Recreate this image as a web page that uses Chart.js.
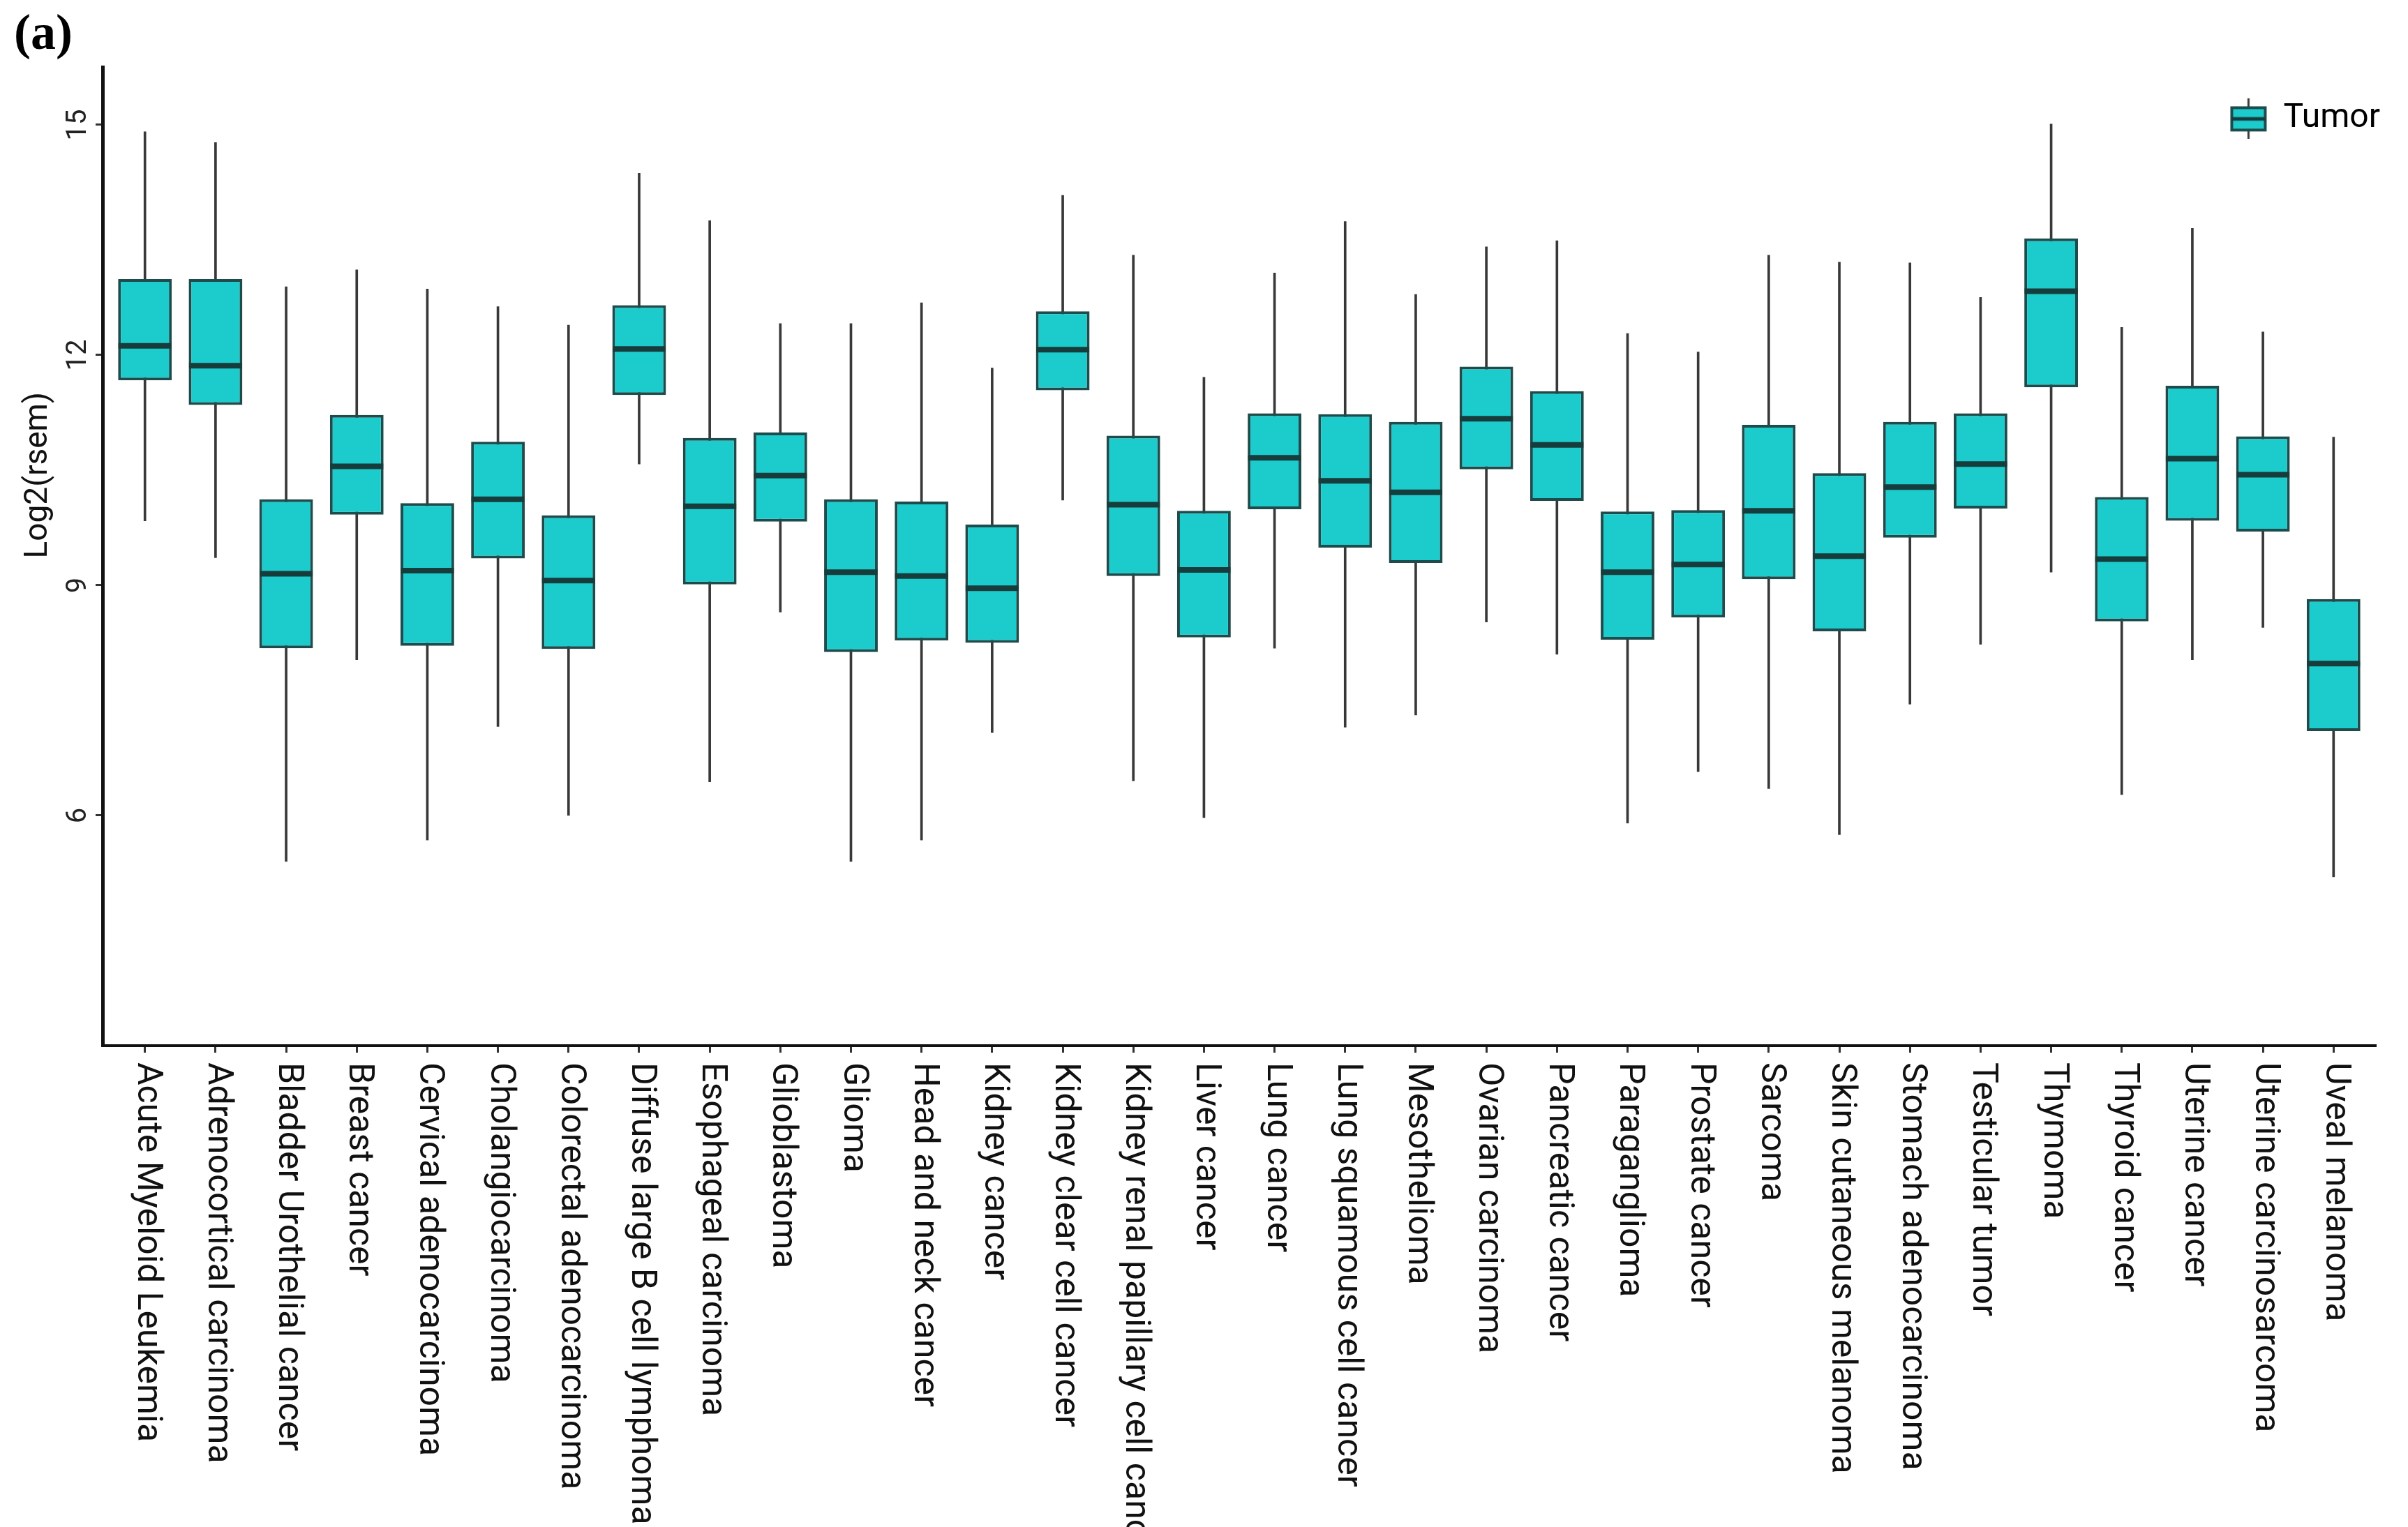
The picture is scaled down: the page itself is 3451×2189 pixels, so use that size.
<!DOCTYPE html>
<html>
<head>
<meta charset="utf-8">
<script src="https://cdn.jsdelivr.net/npm/chart.js@4.4.1/dist/chart.umd.min.js"></script>
<style>
  html, body { margin: 0; padding: 0; background: #fff; }
  #wrap { width: 3451px; height: 2189px; }
</style>
</head>
<body>
<div id="wrap"><canvas id="chart"></canvas></div>
<script>
let categories = [
	'Acute Myeloid Leukemia', 'Adrenocortical carcinoma', 'Bladder Urothelial cancer', 'Breast cancer',
	'Cervical adenocarcinoma', 'Cholangiocarcinoma', 'Colorectal adenocarcinoma', 'Diffuse large B cell lymphoma',
	'Esophageal carcinoma', 'Glioblastoma', 'Glioma', 'Head and neck cancer', 'Kidney cancer',
	'Kidney clear cell cancer', 'Kidney renal papillary cell cancer', 'Liver cancer', 'Lung cancer',
	'Lung squamous cell cancer', 'Mesothelioma', 'Ovarian carcinoma', 'Pancreatic cancer', 'Paraganglioma',
	'Prostate cancer', 'Sarcoma', 'Skin cutaneous melanoma', 'Stomach adenocarcinoma', 'Testicular tumor',
	'Thymoma', 'Thyroid cancer', 'Uterine cancer', 'Uterine carcinosarcoma', 'Uveal melanoma'
];
let whiskerLow = [9.84, 9.36, 5.40, 8.03, 5.68, 7.16, 6.00, 10.58, 6.44, 8.65, 5.40, 5.68, 7.08, 10.11, 6.45, 5.97,
	8.18, 7.15, 7.31, 8.52, 8.10, 5.90, 6.57, 6.35, 5.75, 7.45, 8.23, 9.17, 6.27, 8.03, 8.45, 5.20];
let q1 = [11.67, 11.35, 8.18, 9.92, 8.21, 9.35, 8.17, 11.48, 9.01, 9.83, 8.13, 8.28, 8.25, 11.54, 9.12, 8.32,
	9.99, 9.49, 9.29, 10.51, 10.10, 8.29, 8.58, 9.08, 8.40, 9.62, 10.00, 11.58, 8.53, 9.84, 9.70, 7.10];
let medians = [12.12, 11.86, 9.15, 10.55, 9.19, 10.12, 9.06, 12.08, 10.03, 10.43, 9.17, 9.12, 8.96, 12.07, 10.05, 9.20,
	10.66, 10.36, 10.21, 11.17, 10.83, 9.17, 9.27, 9.97, 9.38, 10.28, 10.58, 12.83, 9.34, 10.65, 10.44, 7.98];
let q3 = [12.99, 12.99, 10.12, 11.22, 10.07, 10.87, 9.91, 12.65, 10.92, 10.99, 10.12, 10.09, 9.79, 12.57, 10.95, 9.97,
	11.24, 11.23, 11.13, 11.85, 11.53, 9.96, 9.98, 11.09, 10.46, 11.13, 11.24, 13.52, 10.15, 11.60, 10.94, 8.82];
let whiskerHigh = [14.91, 14.77, 12.89, 13.11, 12.86, 12.63, 12.39, 14.37, 13.75, 12.41, 12.41, 12.68, 11.83, 14.08, 13.30, 11.71,
	13.07, 13.74, 12.79, 13.41, 13.49, 12.28, 12.04, 13.30, 13.21, 13.20, 12.75, 15.01, 12.36, 13.65, 12.30, 10.93];
let yTicks = [6, 9, 12, 15];
let yTitle = 'Log2(rsem)';

let boxFill = '#1ccbcc';
let boxEdge = '#1e4b4b';
let medianColor = '#173c3c';
let whiskerColor = '#383838';

Chart.defaults.font.family = 'Roboto';

function makeLegendIcon() {
	let c = document.createElement('canvas');
	c.width = 56;
	c.height = 58;
	let g = c.getContext('2d');
	g.strokeStyle = whiskerColor;
	g.lineWidth = 3;
	g.beginPath(); g.moveTo(28, 0); g.lineTo(28, 58); g.stroke();
	g.fillStyle = boxFill;
	g.fillRect(2, 11, 52, 36);
	g.strokeStyle = boxEdge;
	g.lineWidth = 4;
	g.strokeRect(4, 13, 48, 32);
	g.strokeStyle = medianColor;
	g.lineWidth = 5;
	g.beginPath(); g.moveTo(4, 29); g.lineTo(52, 29); g.stroke();
	return c;
}
let legendIcon = makeLegendIcon();

// category names under the axis turned clockwise, and the y title sitting a bit above centre
let axisText = {
	id: 'axisText',
	afterDraw(chart) {
		let xs = chart.scales.x;
		let area = chart.chartArea;
		let ctx = chart.ctx;
		ctx.save();
		ctx.font = '50px Roboto';
		ctx.fillStyle = '#111';
		ctx.textAlign = 'left';
		ctx.textBaseline = 'alphabetic';
		categories.forEach((name, i) => {
			ctx.save();
			ctx.translate(xs.getPixelForValue(i) - 10, xs.top + 24);
			ctx.rotate(Math.PI / 2);
			ctx.fillText(name, 0, 0);
			ctx.restore();
		});

		ctx.font = '46px Roboto';
		ctx.textAlign = 'center';
		ctx.textBaseline = 'middle';
		ctx.translate(55, area.top + (area.bottom - area.top) * 0.417);
		ctx.rotate(-Math.PI / 2);
		ctx.fillText(yTitle, 0, 0);
		ctx.restore();
	}
};

// move the legend to the upper right corner of the plot
let legendPlace = {
	id: 'legendPlace',
	afterLayout(chart) {
		let lg = chart.legend;
		let w = lg.width;
		let h = lg.height;
		lg.left = chart.chartArea.right - w + 16;
		lg.right = chart.width;
		lg.top = chart.chartArea.top + 40;
		lg.bottom = lg.top + h + 20;
	}
};

new Chart(document.querySelector('#chart'), {
	type: 'bar',
	data: {
		datasets: [
			{
				label: 'whisker',
				data: categories.map((c, i) => ({x: i, y: [whiskerLow[i], whiskerHigh[i]]})),
				backgroundColor: whiskerColor,
				borderWidth: 0,
				barThickness: 3,
				grouped: false,
				order: 3
			},
			{
				label: 'Tumor',
				data: categories.map((c, i) => ({x: i, y: [q1[i], q3[i]]})),
				backgroundColor: boxFill,
				borderColor: boxEdge,
				borderWidth: 4,
				borderSkipped: false,
				categoryPercentage: 1,
				barPercentage: 0.76,
				grouped: false,
				order: 2
			},
			{
				type: 'line',
				label: 'median',
				data: categories.map((c, i) => ({x: i, y: medians[i]})),
				showLine: false,
				pointStyle: 'line',
				pointRadius: 38,
				pointHoverRadius: 38,
				borderColor: medianColor,
				backgroundColor: medianColor,
				pointBorderWidth: 8,
				pointHoverBorderWidth: 8,
				order: 1
			}
		]
	},
	options: {
		responsive: true,
		maintainAspectRatio: false,
		animation: false,
		events: [],
		layout: {padding: {left: 20, right: 16, top: 0, bottom: 0}},
		scales: {
			x: {
				type: 'linear',
				min: -0.6,
				max: 31.6,
				offset: false,
				grid: {offset: false, drawOnChartArea: false, tickLength: 10, tickWidth: 3, tickColor: '#333'},
				border: {display: true, color: '#111', width: 4},
				ticks: {display: false},
				afterBuildTicks: s => { s.ticks = categories.map((c, i) => ({value: i})); },
				afterFit: s => { s.height = 690; }
			},
			y: {
				type: 'linear',
				min: 3,
				max: 15.75,
				grid: {drawOnChartArea: false, tickLength: 10, tickWidth: 3, tickColor: '#333'},
				border: {display: true, color: '#111', width: 5},
				ticks: {font: {size: 40}, color: '#222', minRotation: 90, maxRotation: 90, crossAlign: 'center', padding: 2},
				afterBuildTicks: s => { s.ticks = yTicks.map(v => ({value: v})); },
				afterFit: s => { s.width = 127; }
			}
		},
		plugins: {
			title: {
				display: true,
				text: '(a)',
				align: 'start',
				color: '#000',
				font: {family: 'Liberation Serif', weight: 'bold', size: 72},
				padding: {top: 8, bottom: 2}
			},
			legend: {
				position: 'chartArea',
				align: 'start',
				labels: {
					usePointStyle: true,
					pointStyleWidth: 52,
					font: {size: 48},
					color: '#111',
					padding: 10,
					generateLabels: () => [{
						text: 'Tumor', pointStyle: legendIcon, fillStyle: boxFill,
						strokeStyle: boxEdge, lineWidth: 0, hidden: false, datasetIndex: 1
					}]
				}
			},
			tooltip: {enabled: false}
		}
	},
	plugins: [axisText, legendPlace]
});
</script>
</body>
</html>
